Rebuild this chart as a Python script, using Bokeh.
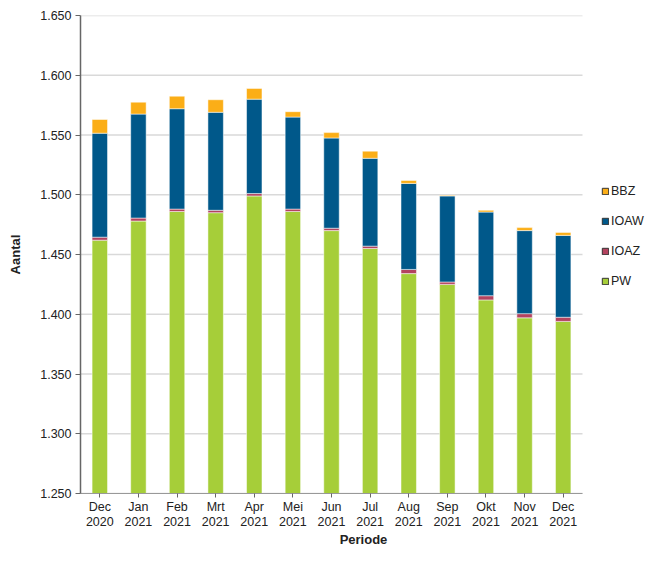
from bokeh.plotting import figure
from bokeh.models import (ColumnDataSource, Legend, LegendItem, FixedTicker, LinearAxis, Range1d)
from bokeh.embed import file_html
from bokeh.resources import INLINE

periods = ["Dec 2020", "Jan 2021", "Feb 2021", "Mrt 2021", "Apr 2021", "Mei 2021", "Jun 2021",
           "Jul 2021", "Aug 2021", "Sep 2021", "Okt 2021", "Nov 2021", "Dec 2021"]
PW = [1462, 1478, 1486, 1485, 1499, 1486, 1470, 1455, 1434, 1425, 1412, 1397, 1394]
IOAZ = [2.5, 2.5, 2, 2, 2, 2, 2, 2, 3.5, 2, 3.5, 3.5, 3.5]
IOAW = [87, 87, 84, 82, 79, 77, 75.5, 73.5, 72, 72, 70, 69.5, 68.5]
BBZ = [11.5, 10, 10.5, 10.5, 9, 4.5, 4.5, 6, 2.5, 0.5, 1.5, 2.5, 2.5]
y_ticks = [1250, 1300, 1350, 1400, 1450, 1500, 1550, 1600, 1650]
y_tick_labels = ["1.250", "1.300", "1.350", "1.400", "1.450", "1.500", "1.550", "1.600", "1.650"]

series = ["PW", "IOAZ", "IOAW", "BBZ"]
colors = ["#A6CE39", "#B3435F", "#00588A", "#FBAE17"]

xs = list(range(len(periods)))
source = ColumnDataSource(dict(x=xs, PW=PW, IOAZ=IOAZ, IOAW=IOAW, BBZ=BBZ))

FONT = "Liberation Sans"
TXT = "#222222"

W, H = 646, 549
LEFT, TOP, BOTTOM_FRAME, RIGHT_FRAME = 80, 15, 497, 582
n = len(periods)
unit = (RIGHT_FRAME - LEFT) / n
x_end = n - 0.5 + (W - RIGHT_FRAME) / unit

p = figure(x_range=Range1d(-0.5, x_end), y_range=Range1d(1250, 1650), width=W, height=H,
           output_backend="svg", toolbar_location=None,
           min_border_left=LEFT, min_border_right=0, min_border_top=TOP,
           min_border_bottom=H - BOTTOM_FRAME, x_axis_type=None)
p.outline_line_color = None
p.xgrid.grid_line_color = None

# gridlines limited to the category area
p.segment(x0=-0.5, x1=n - 0.5, y0=y_ticks, y1=y_ticks, line_color="#D9D9D9", line_width=1.5)

p.vbar_stack(series, x="x", width=0.4, source=source, color=colors,
             line_color="white", line_alpha=0.5, line_width=1)

# legend with dark-bordered swatches (dummy zero-height bars outside the visible range)
dummy = {}
for s, c in zip(series, colors):
    dummy[s] = p.vbar(x=[0], bottom=[0], top=[0], width=0.4, fill_color=c,
                      line_color="#333333", line_width=1)
items = [LegendItem(label=s, renderers=[dummy[s]]) for s in reversed(series)]
legend = Legend(items=items, location=(521, 202), orientation="vertical",
                border_line_color=None, background_fill_alpha=0,
                glyph_width=8, glyph_height=8, label_height=20, spacing=10,
                label_standoff=2, padding=0, margin=0,
                label_text_font=FONT, label_text_font_size="12.5px", label_text_color=TXT)
p.add_layout(legend, "center")

month_axis = LinearAxis()
year_axis = LinearAxis()
p.add_layout(month_axis, "below")
p.add_layout(year_axis, "below")

p.yaxis.ticker = FixedTicker(ticks=y_ticks)
p.yaxis.major_label_overrides = {t: l for t, l in zip(y_ticks, y_tick_labels)}
p.ygrid.grid_line_color = None

for ax in (month_axis, p.yaxis[0], year_axis):
    ax.major_label_text_font = FONT
    ax.major_label_text_font_size = "12.5px"
    ax.major_label_text_color = TXT
    ax.axis_label_text_font = FONT
    ax.axis_label_text_font_size = "13px"
    ax.axis_label_text_font_style = "bold"
    ax.axis_label_text_color = TXT
    ax.minor_tick_line_color = None

p.yaxis.axis_label = "Aantal"
p.yaxis.axis_line_color = "#666666"
p.yaxis.axis_line_width = 1.5
p.yaxis.major_tick_line_color = "#666666"
p.yaxis.major_tick_out = 5
p.yaxis.major_tick_in = 0
p.yaxis.major_label_standoff = 4
p.yaxis.axis_label_standoff = 14

month_axis.ticker = FixedTicker(ticks=xs)
month_axis.bounds = (-0.5, n - 0.5)
month_axis.major_label_overrides = {i: per.split(" ")[0] for i, per in zip(xs, periods)}
month_axis.axis_line_color = "#999999"
month_axis.major_tick_line_color = "#666666"
month_axis.major_tick_out = 4
month_axis.major_tick_in = 0
month_axis.major_label_standoff = 2

year_axis.ticker = FixedTicker(ticks=xs)
year_axis.major_label_overrides = {i: per.split(" ")[1] for i, per in zip(xs, periods)}
year_axis.axis_line_color = None
year_axis.major_tick_line_color = None
year_axis.major_tick_out = 0
year_axis.major_tick_in = 0
year_axis.major_label_standoff = 0
year_axis.axis_label = "Periode"
year_axis.axis_label_standoff = 3

open("out.html", "w").write(file_html(p, INLINE))
